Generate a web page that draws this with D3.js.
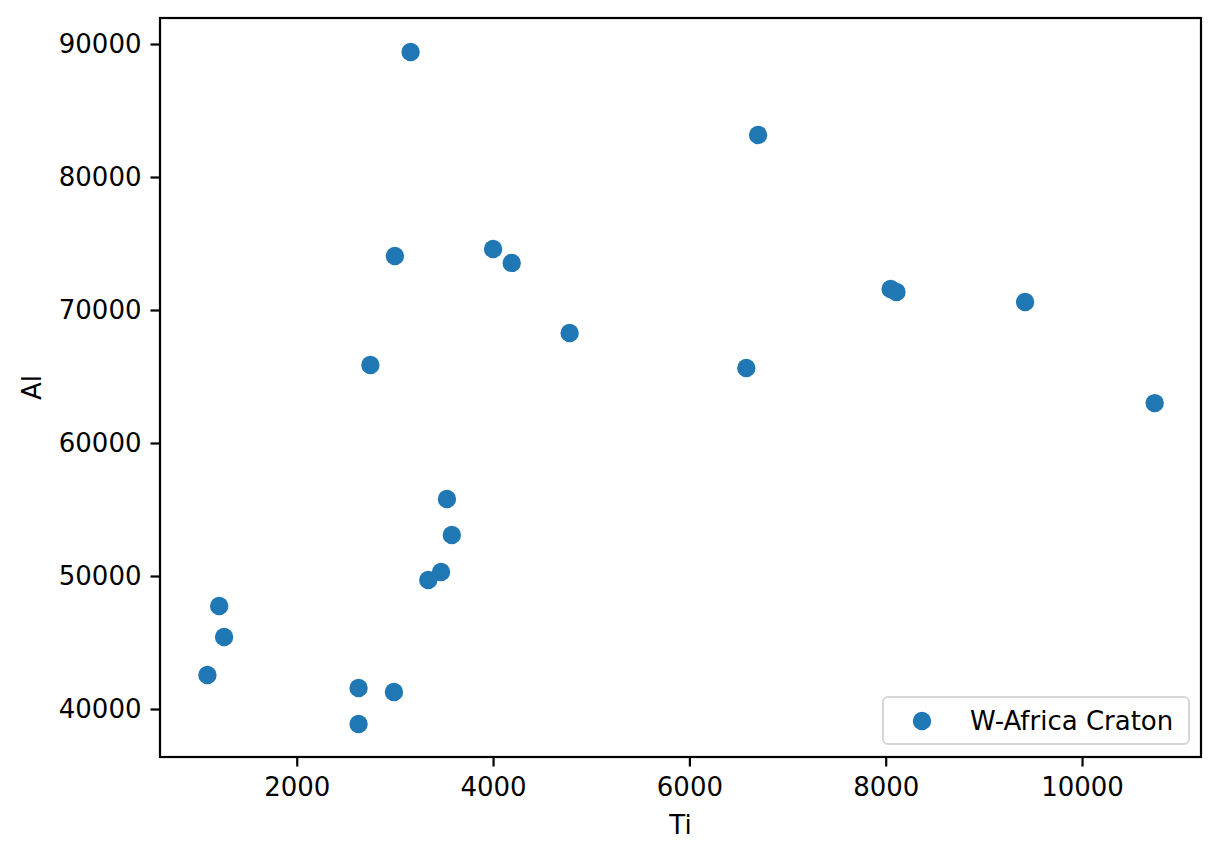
<!DOCTYPE html>
<html>
<meta charset="utf-8">
<style>
body{
	margin:0;
	background:#fff;
}
text{
	font-family:"DejaVu Sans", sans-serif;
	fill:#000;
}
</style>
<body>
<svg width="1220" height="858"></svg>
<script src="https://cdn.jsdelivr.net/npm/d3@7"></script>
<script>

// data
var seriesName = "W-Africa Craton";
var ti = [3160, 6700, 3000, 4000, 4190, 8050, 8110, 9420, 4780, 2750, 6580, 10740,
          3530, 3580, 3470, 3340, 1210, 1260, 1090, 2630, 2990, 2630];
var al = [89400, 83160, 74060, 74590, 73540, 71580, 71350, 70600, 68270, 65860, 65640, 63000,
          55790, 53080, 50300, 49700, 47740, 45410, 42560, 41580, 41280, 38870];
var xTicks = [2000, 4000, 6000, 8000, 10000];
var yTicks = [40000, 50000, 60000, 70000, 80000, 90000];

var svg = d3.select("svg"),
    plotL = 160, plotR = 1201, plotT = 18, plotB = 757;

var x = d3.scaleLinear().domain([607, 11212]).range([plotL, plotR]);
var y = d3.scaleLinear().domain([36391, 91955]).range([plotB, plotT]);

var color = "#1f77b4";

// points
svg.append("g").selectAll("circle")
    .data(ti.map(function(d, i) { return [d, al[i]]; }))
    .enter().append("circle")
      .attr("cx", function(d) { return x(d[0]); })
      .attr("cy", function(d) { return y(d[1]); })
      .attr("r", 9.2)
      .attr("fill", color);

// axes
var xAxis = svg.append("g")
    .attr("transform", "translate(0," + plotB + ")")
    .call(d3.axisBottom(x).tickValues(xTicks).tickFormat(d3.format("d")).tickSize(9.5).tickPadding(9));
var yAxis = svg.append("g")
    .attr("transform", "translate(" + plotL + ",0)")
    .call(d3.axisLeft(y).tickValues(yTicks).tickFormat(d3.format("d")).tickSize(9.5).tickPadding(9));

[xAxis, yAxis].forEach(function(a) {
  a.select(".domain").remove();
  a.selectAll("line").attr("stroke", "#000").attr("stroke-width", 2.2);
  a.selectAll("text").style("font-size", "26px").attr("fill", "#000");
});
xAxis.selectAll("text").attr("dy", "0.78em");

// frame
svg.append("rect")
    .attr("x", plotL).attr("y", plotT)
    .attr("width", plotR - plotL).attr("height", plotB - plotT)
    .attr("fill", "none").attr("stroke", "#000").attr("stroke-width", 2.2);

// axis labels
svg.append("text")
    .attr("x", (plotL + plotR) / 2).attr("y", 834)
    .attr("text-anchor", "middle")
    .style("font-size", "26px")
    .text("Ti");
svg.append("text")
    .attr("transform", "translate(41," + (plotT + plotB) / 2 + ") rotate(-90)")
    .attr("text-anchor", "middle")
    .style("font-size", "26px")
    .text("Al");

// legend
var lg = svg.append("g");
lg.append("rect")
    .attr("x", 883).attr("y", 697)
    .attr("width", 306).attr("height", 47)
    .attr("rx", 5)
    .attr("fill", "#fff").attr("fill-opacity", 0.8)
    .attr("stroke", "#d6d6d6").attr("stroke-width", 2);
lg.append("circle")
    .attr("cx", 922).attr("cy", 721)
    .attr("r", 9.2)
    .attr("fill", color);
lg.append("text")
    .attr("x", 970).attr("y", 721)
    .attr("dy", "0.35em")
    .style("font-size", "26px")
    .text(seriesName);

</script>
</body>
</html>
